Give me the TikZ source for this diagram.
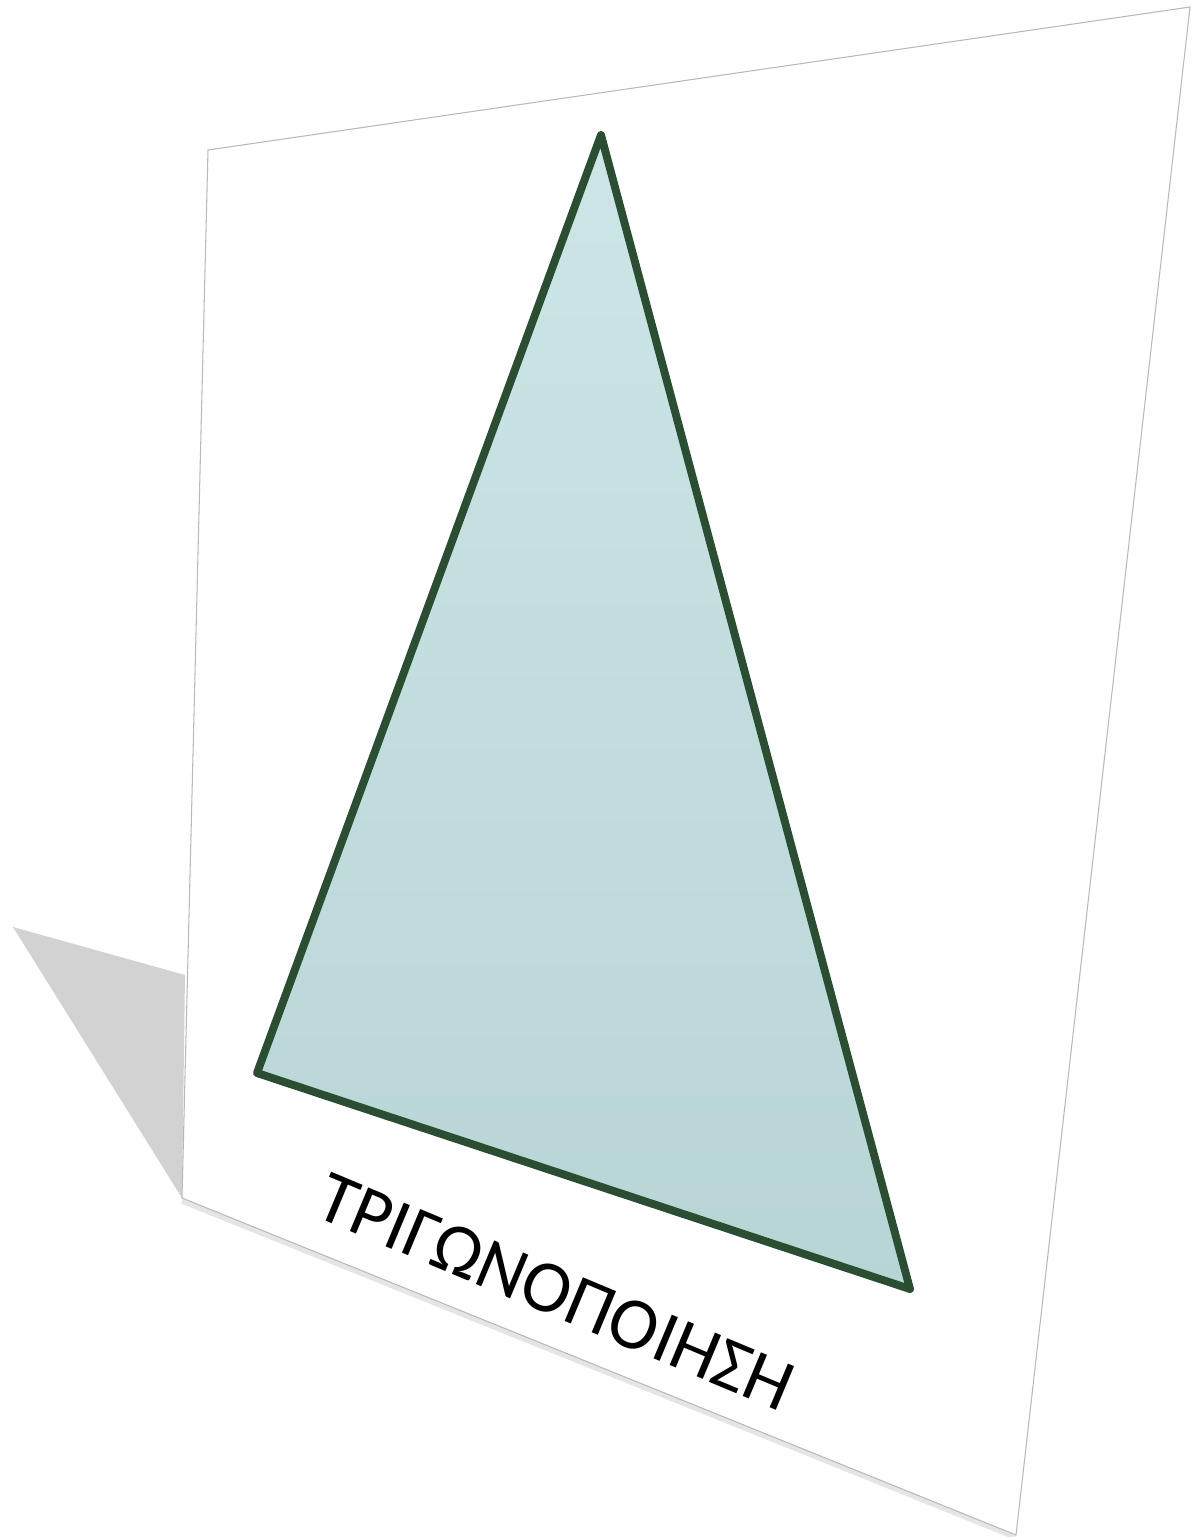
\documentclass[tikz,border=0pt]{standalone}
\usepackage{fontspec}
\setmainfont{Carlito}
\usepackage{xcolor}
\usetikzlibrary{calc}
\definecolor{edgegreen}{HTML}{2B4E33}
\definecolor{tritop}{HTML}{CDE5E6}
\definecolor{tribot}{HTML}{B8D5D5}

\begin{document}
\begin{tikzpicture}[x=0.02cm, y=-0.02cm]
	\useasboundingbox (0,0) rectangle (1198,1537);
	\coordinate (tl) at (208,150);
	\coordinate (tr) at (1190,7);
	\coordinate (br) at (1016,1535);
	\coordinate (bl) at (182,1198);
	\fill[gray!35] (13,927) -- (185,975) -- (bl) -- cycle;
	\draw[gray!40, line width=3pt, opacity=0.5] ($(bl)+(0,3)$) -- ($(br)+(-1,2)$);
	\filldraw[fill=white, draw=gray!55, line width=0.6pt] (tl) -- (tr) -- (br) -- (bl) -- cycle;
	\coordinate (apex) at (601,135);
	\coordinate (left) at (257,1073);
	\coordinate (right) at (910,1289);
	\shade[top color=tritop, bottom color=tribot] (apex) -- (right) -- (left) -- cycle;
	\draw[edgegreen, line width=4.5pt, line join=round] (apex) -- (right) -- (left) -- cycle;
	\node[font=\fontsize{42}{50}\selectfont, rotate=-22.7] (name) at (556,1292) {ΤΡΙΓΩΝΟΠΟΙΗΣΗ};
\end{tikzpicture}
\end{document}
